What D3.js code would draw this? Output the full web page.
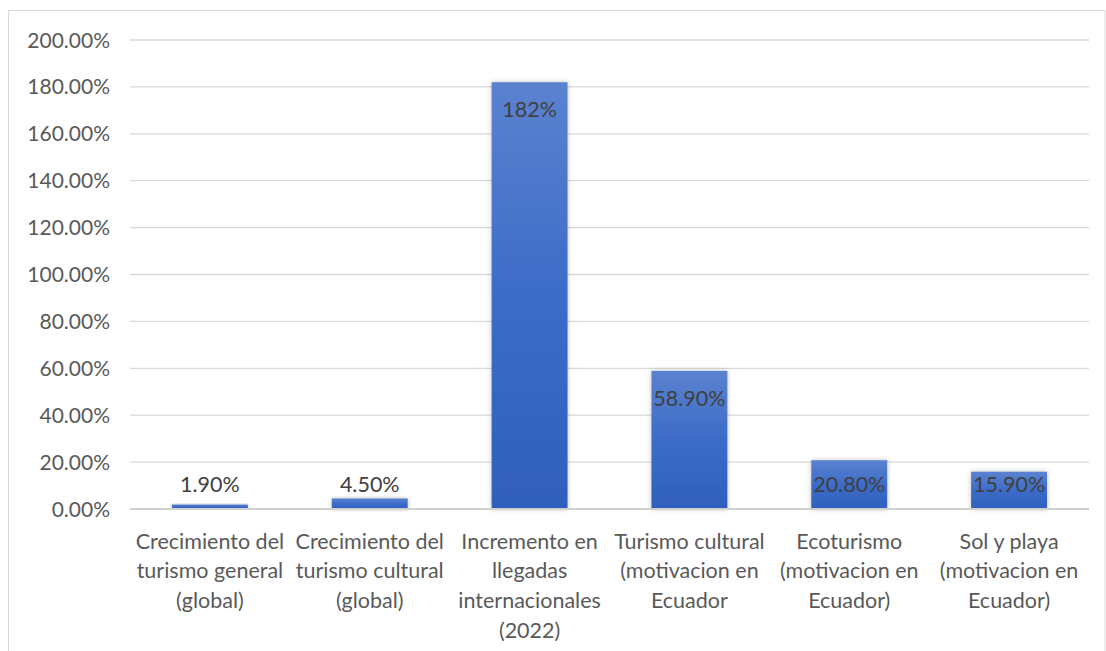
<!DOCTYPE html>
<html><head><meta charset="utf-8">
<script src="https://cdn.jsdelivr.net/npm/d3@7/dist/d3.min.js"></script>
<style>body{margin:0;background:#fff;}svg{display:block;}</style>
</head><body>
<svg id="c" width="1106" height="651"></svg>
<script>
const categories = [
  ["Crecimiento del","turismo general","(global)"],
  ["Crecimiento del","turismo cultural","(global)"],
  ["Incremento en","llegadas","internacionales","(2022)"],
  ["Turismo cultural","(motivacion en","Ecuador"],
  ["Ecoturismo","(motivacion en","Ecuador)"],
  ["Sol y playa","(motivacion en","Ecuador)"]
];
const values = [1.9, 4.5, 182, 58.9, 20.8, 15.9];
const valueLabels = ["1.90%","4.50%","182%","58.90%","20.80%","15.90%"];
const yTicks = [0,20,40,60,80,100,120,140,160,180,200];

const svg = d3.select("#c");
const font = "Lato, 'Open Sans', sans-serif";
const m = {left:130, right:1089, top:40, bottom:509};

svg.append("rect").attr("x",8.5).attr("y",10.5).attr("width",1096.5).attr("height",660)
  .attr("fill","#fff").attr("stroke","#d9d9d9").attr("stroke-width",1);

const defs = svg.append("defs");
const g = defs.append("linearGradient").attr("id","bg").attr("x1",0).attr("y1",0).attr("x2",0).attr("y2",1);
g.append("stop").attr("offset","0%").attr("stop-color","#5b82cf");
g.append("stop").attr("offset","50%").attr("stop-color","#3c6cc8");
g.append("stop").attr("offset","100%").attr("stop-color","#2f60bb");
const f = defs.append("filter").attr("id","sh").attr("x","-20%").attr("y","-20%").attr("width","140%").attr("height","140%");
f.append("feDropShadow").attr("dx",0).attr("dy",0).attr("stdDeviation",2.5).attr("flood-color","#000").attr("flood-opacity",0.25);

const x = d3.scaleBand().domain(d3.range(categories.length)).range([m.left, m.right]).paddingInner(0.525).paddingOuter(0.2625);
const y = d3.scaleLinear().domain([0,200]).range([m.bottom, m.top]);

// gridlines
svg.append("g").selectAll("line").data(yTicks.slice(1)).join("line")
  .attr("x1",m.left).attr("x2",m.right)
  .attr("y1",d=>y(d)).attr("y2",d=>y(d))
  .attr("stroke","#d9d9d9").attr("stroke-width",1.3);

// y labels
svg.append("g").selectAll("text").data(yTicks).join("text")
  .attr("x",110).attr("y",d=>y(d)).attr("dy","0.36em")
  .attr("text-anchor","end").attr("font-family",font).attr("font-size",21)
  .attr("fill","#595959").text(d=>d.toFixed(2)+"%");

// bars
svg.append("g").selectAll("rect").data(values).join("rect")
  .attr("x",(d,i)=>x(i)).attr("width",x.bandwidth())
  .attr("y",d=>y(d)).attr("height",d=>y(0)-y(d))
  .attr("fill","url(#bg)").attr("filter","url(#sh)");

// axis line
svg.append("line").attr("x1",m.left).attr("x2",m.right)
  .attr("y1",y(0)).attr("y2",y(0)).attr("stroke","#d0d0d0").attr("stroke-width",1.8);

// value labels
svg.append("g").selectAll("text").data(values).join("text")
  .attr("x",(d,i)=>x(i)+x.bandwidth()/2)
  .attr("y",d=>Math.min(y(d)+27, y(0)-25)).attr("dy","0.36em")
  .attr("text-anchor","middle").attr("font-family",font).attr("font-size",21.5)
  .attr("fill","#404040").text((d,i)=>valueLabels[i]);

// category labels
const cg = svg.append("g");
categories.forEach((lines,i)=>{
  const t = cg.append("text").attr("text-anchor","middle").attr("font-family",font)
    .attr("font-size",21.5).attr("fill","#595959");
  lines.forEach((l,j)=>{
    t.append("tspan").attr("x",x(i)+x.bandwidth()/2).attr("y",541+j*29.6).attr("dy","0.36em").text(l);
  });
});
</script>
</body></html>
